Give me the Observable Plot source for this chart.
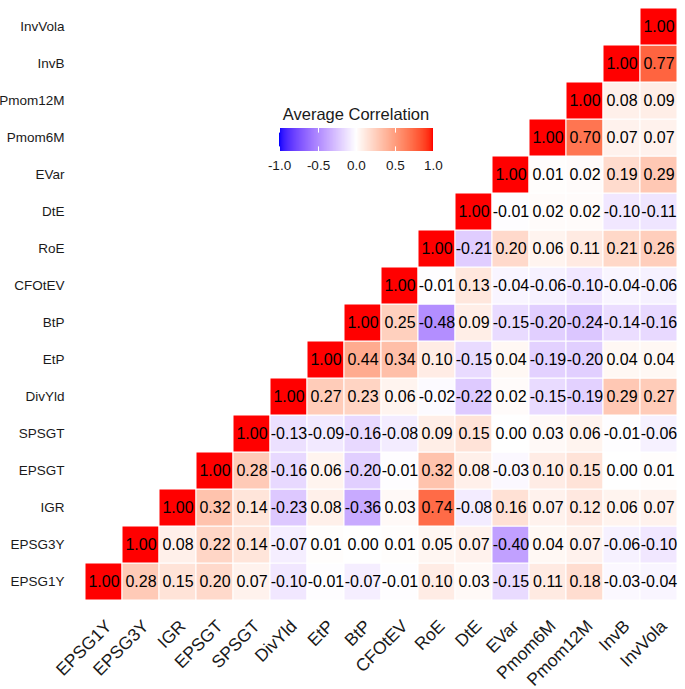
<!DOCTYPE html>
<html><head><meta charset="utf-8">
<script src="https://cdn.jsdelivr.net/npm/d3@7"></script>
<script src="https://cdn.jsdelivr.net/npm/@observablehq/plot@0.6"></script>
<style>
body{margin:0;background:#fff;font-family:"Liberation Sans",Arial,sans-serif;}
#wrap{position:relative;width:685px;height:689px;overflow:hidden;}
#legendTitle{position:absolute;left:356px;top:104px;transform:translateX(-50%);font-size:16.5px;color:#1a1a1a;white-space:nowrap;line-height:20px;}
#legend{position:absolute;left:264px;top:128px;}
</style></head><body>
<div id="wrap"><div id="chart"></div><div id="legendTitle"></div><div id="legend"></div></div>
<script>
const variables = ["EPSG1Y","EPSG3Y","IGR","EPSGT","SPSGT","DivYld","EtP","BtP","CFOtEV","RoE","DtE","EVar","Pmom6M","Pmom12M","InvB","InvVola"];
// each row starts at the diagonal (its own variable) and runs to InvVola
const rowEPSG1Y = [1.00, 0.28, 0.15, 0.20, 0.07, -0.10, -0.01, -0.07, -0.01, 0.10, 0.03, -0.15, 0.11, 0.18, -0.03, -0.04];
const rowEPSG3Y = [1.00, 0.08, 0.22, 0.14, -0.07, 0.01, 0.00, 0.01, 0.05, 0.07, -0.40, 0.04, 0.07, -0.06, -0.10];
const rowIGR = [1.00, 0.32, 0.14, -0.23, 0.08, -0.36, 0.03, 0.74, -0.08, 0.16, 0.07, 0.12, 0.06, 0.07];
const rowEPSGT = [1.00, 0.28, -0.16, 0.06, -0.20, -0.01, 0.32, 0.08, -0.03, 0.10, 0.15, 0.00, 0.01];
const rowSPSGT = [1.00, -0.13, -0.09, -0.16, -0.08, 0.09, 0.15, 0.00, 0.03, 0.06, -0.01, -0.06];
const rowDivYld = [1.00, 0.27, 0.23, 0.06, -0.02, -0.22, 0.02, -0.15, -0.19, 0.29, 0.27];
const rowEtP = [1.00, 0.44, 0.34, 0.10, -0.15, 0.04, -0.19, -0.20, 0.04, 0.04];
const rowBtP = [1.00, 0.25, -0.48, 0.09, -0.15, -0.20, -0.24, -0.14, -0.16];
const rowCFOtEV = [1.00, -0.01, 0.13, -0.04, -0.06, -0.10, -0.04, -0.06];
const rowRoE = [1.00, -0.21, 0.20, 0.06, 0.11, 0.21, 0.26];
const rowDtE = [1.00, -0.01, 0.02, 0.02, -0.10, -0.11];
const rowEVar = [1.00, 0.01, 0.02, 0.19, 0.29];
const rowPmom6M = [1.00, 0.70, 0.07, 0.07];
const rowPmom12M = [1.00, 0.08, 0.09];
const rowInvB = [1.00, 0.77];
const rowInvVola = [1.00];
const legendTicks = [-1, -0.5, 0, 0.5, 1];
const legendTitle = "Average Correlation";

const rows = [rowEPSG1Y,rowEPSG3Y,rowIGR,rowEPSGT,rowSPSGT,rowDivYld,rowEtP,rowBtP,rowCFOtEV,rowRoE,rowDtE,rowEVar,rowPmom6M,rowPmom12M,rowInvB,rowInvVola];
const data = [];
rows.forEach((r, i) => r.forEach((v, k) => data.push({x: variables[i + k], y: variables[i], value: v})));

const font = "Liberation Sans, Arial, sans-serif";
const colorScale = {type: "linear", domain: [-1, 0, 1], range: ["blue", "white", "red"], interpolate: "lab"};

const chart = Plot.plot({
  width: 685, height: 689,
  marginLeft: 77, marginRight: 1, marginTop: 0, marginBottom: 82,
  style: {fontFamily: font, background: "white", color: "#1a1a1a"},
  x: {domain: variables, padding: 0, axis: null},
  y: {domain: variables.slice().reverse(), padding: 0},
  color: colorScale,
  marks: [
    Plot.cell(data, {x: "x", y: "y", fill: "value", stroke: "white", strokeWidth: 1}),
    Plot.text(data, {x: "x", y: "y", text: d => d.value.toFixed(2), fontSize: 16, fill: "black"}),
    // x-axis tick labels, rotated 45° and anchored at their end on each band centre
    Plot.text(variables, {x: d => d, text: d => d, frameAnchor: "bottom", dy: 11, rotate: -45,
      textAnchor: "end", lineAnchor: "top", fontSize: 17.5, fill: "#1a1a1a"}),
    Plot.axisY({tickSize: 0, tickPadding: 13, fontSize: 13.5, label: null, color: "#1a1a1a"})
  ]
});
chart.querySelectorAll('g[aria-label="y-axis tick label"]').forEach(g => g.setAttribute("font-size", 13.5));
document.getElementById("chart").appendChild(chart);

document.getElementById("legendTitle").textContent = legendTitle;
const leg = Plot.legend({
  color: colorScale,
  width: 184, height: 47,
  marginLeft: 15, marginRight: 15, marginTop: 0, marginBottom: 24,
  tickSize: 6,
  ticks: legendTicks,
  tickFormat: d => d.toFixed(1),
  label: null,
  style: {fontSize: "13.5px", fontFamily: font, color: "#1a1a1a", background: "transparent", overflow: "visible"}
});
leg.querySelectorAll(".tick line").forEach(l => {
  l.setAttribute("y1", -23); l.setAttribute("y2", 0);
  l.setAttribute("stroke", "white");
  l.setAttribute("stroke-dasharray", "4.6,13.8,4.6");
});
document.getElementById("legend").appendChild(leg);
</script>
</body></html>
